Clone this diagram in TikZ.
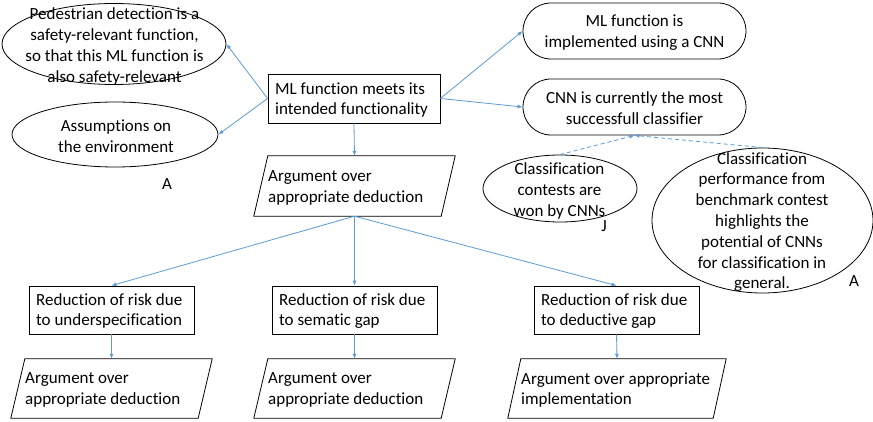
\documentclass[tikz,border=0pt]{standalone}
\usepackage{fontspec}
\setmainfont{Carlito}[Ligatures=NoCommon]
\usetikzlibrary{shapes.geometric,arrows.meta,calc}
\definecolor{arrblue}{RGB}{91,155,213}
\tikzset{
  shp/.style={draw=black, line width=0.8pt, inner sep=0pt},
  ell/.style={shp, ellipse},
  boxnode/.style={shp, rectangle},
  stad/.style={shp, rectangle, rounded corners=28pt},
  ghost/.style={draw=none, rectangle, inner sep=0pt},
  txt/.style={inner sep=0pt, font=\fontsize{17}{20.8}\selectfont, align=center},
  ltxt/.style={inner sep=0pt, font=\fontsize{17}{20.8}\selectfont, align=left, anchor=west},
  conn/.style={draw=arrblue, line width=0.8pt, -{Latex[length=5pt,width=4pt]}},
  dconn/.style={conn, dash pattern=on 4pt off 3pt},
}
\newcommand{\parag}[2]{% node name, slant
  \draw[line width=0.8pt] ($(#1.north west)+(#2,0)$) -- (#1.north east) -- ($(#1.south east)+(-#2,0)$) -- (#1.south west) -- cycle;}
\begin{document}
\begin{tikzpicture}[x=1pt,y=-1pt]
\useasboundingbox[fill=white] (0,0) rectangle (873,422);

% left ellipses
\node[ell, minimum width=224pt, minimum height=81pt] (ped) at (114,44) {};
\node[txt] (pedt) at (114.5,46.5) {Pedestrian detection is a\\safety-relevant function,\\so that this ML function is\\also safety-relevant};
\node[ell, minimum width=206pt, minimum height=65pt] (ass) at (115,134.5) {};
\node[txt] (asst) at (116,136.5) {Assumptions on\\the environment};
\node[txt] (lblA1) at (167,184) {A};

% main box
\node[boxnode, minimum width=172pt, minimum height=49pt] (main) at (354,98.5) {};
\node[ltxt] (maint) at (275,100) {ML function meets its\\intended functionality};

% right stadiums
\node[stad, minimum width=223pt, minimum height=56pt] (cnn1) at (634.5,31) {};
\node[txt] (cnn1t) at (634.5,33) {ML function is\\implemented using a CNN};
\node[stad, minimum width=223pt, minimum height=56pt] (cnn2) at (634.5,107) {};
\node[txt] (cnn2t) at (634.5,108) {CNN is currently the most\\successfull classifier};

% contest ellipses
\node[ell, minimum width=154pt, minimum height=67pt] (cont) at (560,188.5) {};
\node[txt] (contt) at (559.5,191) {Classification\\contests are\\won by CNNs};
\node[txt] (lblJ) at (604,226) {J};
\node[ell, minimum width=221pt, minimum height=145pt] (bench) at (762.5,220.5) {};
\node[txt] (bencht) at (762,222) {Classification\\performance from\\benchmark contest\\highlights the\\potential of CNNs\\for classification in\\general.};
\node[txt] (lblA2) at (854,281) {A};

% argument parallelogram
\node[ghost, minimum width=201pt, minimum height=60pt] (arg) at (354.5,186) {};
\parag{arg}{14}
\node[ltxt] (argt) at (268,188) {Argument over\\appropriate deduction};

% reduction boxes
\node[boxnode, minimum width=165pt, minimum height=48pt] (red1) at (111.5,310) {};
\node[ltxt] (red1t) at (36,311) {Reduction of risk due\\to underspecification};
\node[boxnode, minimum width=165pt, minimum height=48pt] (red2) at (354.5,310) {};
\node[ltxt] (red2t) at (279,311) {Reduction of risk due\\to sematic gap};
\node[boxnode, minimum width=165pt, minimum height=48pt] (red3) at (616.5,310) {};
\node[ltxt] (red3t) at (541,311) {Reduction of risk due\\to deductive gap};

% bottom parallelograms
\node[ghost, minimum width=201pt, minimum height=59pt] (arg1) at (111.5,388.5) {};
\parag{arg1}{14}
\node[ltxt] (arg1t) at (25,390) {Argument over\\appropriate deduction};
\node[ghost, minimum width=201pt, minimum height=59pt] (arg2) at (354.5,388.5) {};
\parag{arg2}{14}
\node[ltxt] (arg2t) at (268,390) {Argument over\\appropriate deduction};
\node[ghost, minimum width=218pt, minimum height=59pt] (arg3) at (617,388.5) {};
\parag{arg3}{13}
\node[ltxt] (arg3t) at (521,390) {Argument over appropriate\\implementation};

% connectors
\draw[conn] (main.west) -- (ped.east);
\draw[conn] (main.west) -- (ass.east);
\draw[conn] (main.east) -- (cnn1.west);
\draw[conn] (main.east) -- (cnn2.west);
\draw[conn] (main.south) -- (arg.north);
\draw[dconn] (cont.north) -- (cnn2.south);
\draw[dconn] (bench.north) -- (cnn2.south);
\draw[conn] (arg.south) -- (red1.north);
\draw[conn] (arg.south) -- (red2.north);
\draw[conn] (arg.south) -- (red3.north);
\draw[conn] (red1.south) -- (arg1.north);
\draw[conn] (red2.south) -- (arg2.north);
\draw[conn] (red3.south) -- (arg3.north);
\end{tikzpicture}
\end{document}
